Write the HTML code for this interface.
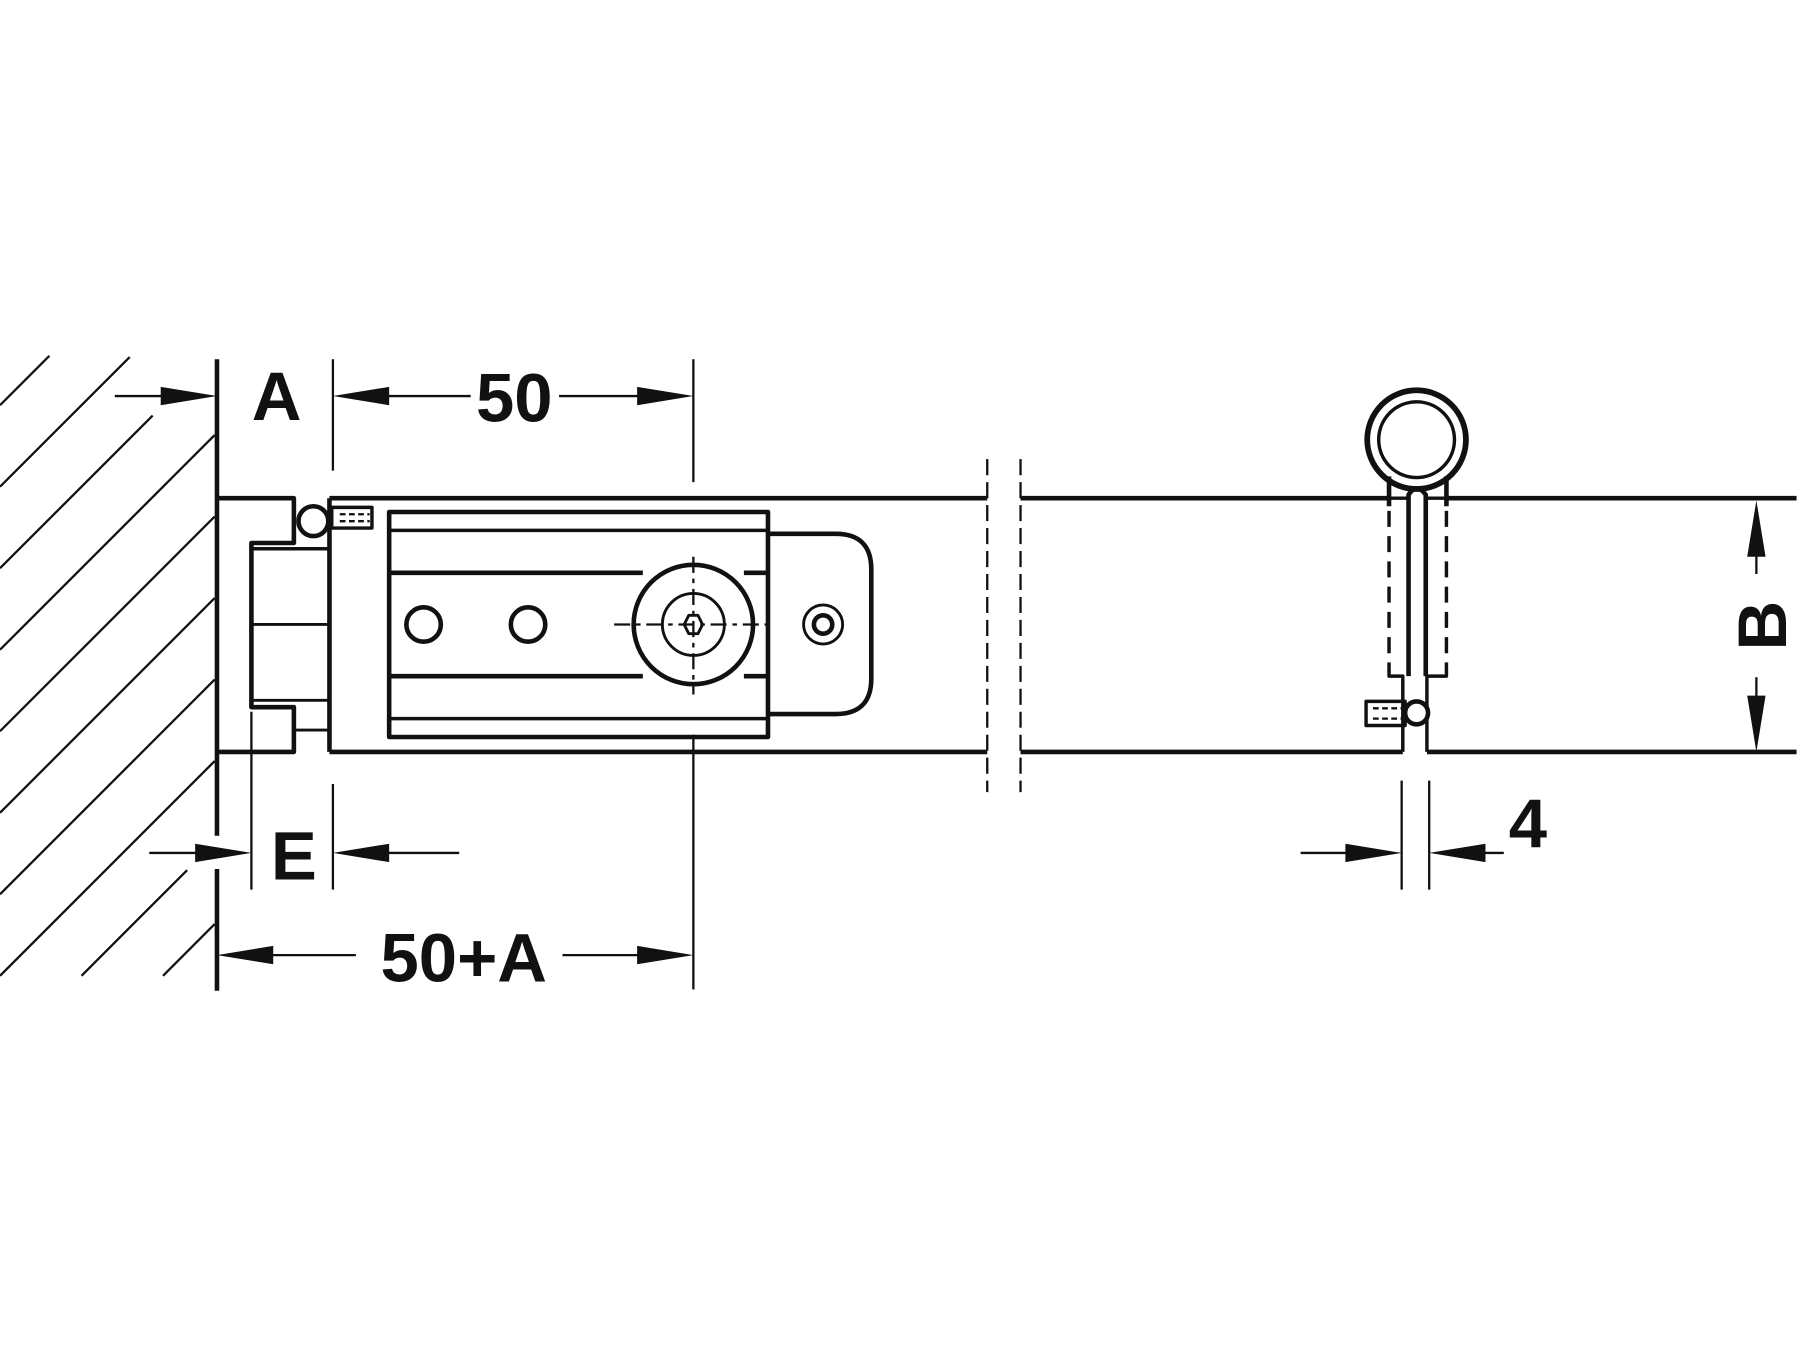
<!DOCTYPE html>
<html><head><meta charset="utf-8"><style>html,body{margin:0;padding:0;background:#fff}svg{display:block}</style></head>
<body>
<svg width="1800" height="1350" viewBox="0 0 1568 1176" xmlns="http://www.w3.org/2000/svg">
<rect width="1568" height="1176" fill="#fff"/>
<g stroke="#111" stroke-width="2" fill="none">
<path d="M0 353L43 310M0 424L113 311M0 495L133 362M0 566L187 379M0 637L187 450M0 708L187 521M0 779L187 592M0 850L187 663M71 850L163 758M142 850L187 805"/>
</g>
<g stroke="#111" fill="none" stroke-width="4" stroke-linejoin="round">
<line x1="189" y1="313" x2="189" y2="728"/>
<line x1="189" y1="757" x2="189" y2="863"/>
<!-- left block -->
<path d="M189 434H256V473H219V616H256V655H189"/>
<path d="M287 434V655" />
<path d="M219 478H287M256 616V655" stroke-width="3"/>
<path d="M219 544H287M256 636H287M219 610H287" stroke-width="2.5"/>
<!-- rail -->
<path d="M287 434H860M287 655H860"/>
<path d="M889 434H1210M1260 434H1565M889 655H1222M1243 655H1565"/>
<!-- ball & screw -->
<circle cx="273" cy="454" r="13"/>
<rect x="289" y="442" width="35" height="18" stroke-width="3"/>
<path d="M296 448H322M296 454H322" stroke-dasharray="5 3" stroke-width="2"/>
<!-- carriage -->
<rect x="339" y="446" width="330" height="196"/>
<path d="M339 462H669M339 626H669" stroke-width="3"/>
<path d="M339 499H560M648 499H669M339 589H560M648 589H669" stroke-width="4"/>
<circle cx="369" cy="544" r="15"/>
<circle cx="460" cy="544" r="15"/>
<circle cx="604" cy="544" r="52" fill="#fff"/>
<circle cx="604" cy="544" r="27" stroke-width="2.5"/>
<polygon points="596,544 600,536 608,536 612,544 608,552 600,552" stroke-width="2.5"/>
<path d="M669 465H728Q759 465 759 496V591Q759 622 728 622H669"/>
<circle cx="717" cy="544" r="17" stroke-width="2.5"/>
<circle cx="717" cy="544" r="8"/>
<!-- centerlines -->
<path d="M535 544H675" stroke-width="2" stroke-dasharray="14 5 4 5"/>
<path d="M604 313V420" stroke-width="2"/>
<path d="M604 485V605" stroke-width="2" stroke-dasharray="14 5 4 5"/>
<path d="M604 640V862" stroke-width="2"/>
<!-- break lines -->
<path d="M860 400V690M889 400V690" stroke-width="2" stroke-dasharray="14 6"/>
<!-- right ring -->
<circle cx="1234" cy="383" r="43" stroke-width="5"/>
<circle cx="1234" cy="383" r="33" stroke-width="3"/>
<path d="M1210 415V441M1260 415V441" stroke-width="4"/>
<path d="M1210 445V585M1260 445V585" stroke-width="3" stroke-dasharray="14 8"/>
<path d="M1210 584V589H1222V655M1260 584V589H1243V655" stroke-width="3"/>
<path d="M1227 589V431Q1234 420 1242 431V589" stroke-width="4"/>
<path d="M1210 434H1227M1242 434H1260" stroke-width="3"/>
<circle cx="1234" cy="621" r="10" fill="#fff"/>
<rect x="1190" y="611" width="34" height="21" stroke-width="3"/>
<path d="M1196 617H1222M1196 626H1222" stroke-width="2" stroke-dasharray="5 3"/>
<!-- dimension lines -->
<g stroke-width="2">
<path d="M100 345H150M290 313V410M330 345H410M487 345H565"/>
<path d="M219 620V775M290 683V775M130 743H180M330 743H400"/>
<path d="M230 832H310M490 832H565"/>
<path d="M1221 680V775M1245 680V775M1133 743H1185M1282 743H1310"/>
<path d="M1530 475V500M1530 590V615"/>
</g>
</g>
<g fill="#111">
<polygon points="189,345 140,337 140,353"/>
<polygon points="290,345 339,337 339,353"/>
<polygon points="604,345 555,337 555,353"/>
<polygon points="219,743 170,735 170,751"/>
<polygon points="290,743 339,735 339,751"/>
<polygon points="189,832 238,824 238,840"/>
<polygon points="604,832 555,824 555,840"/>
<polygon points="1221,743 1172,735 1172,751"/>
<polygon points="1245,743 1294,735 1294,751"/>
<polygon points="1530,436 1522,485 1538,485"/>
<polygon points="1530,655 1522,606 1538,606"/>
</g>
<g font-family="Liberation Sans, sans-serif" font-weight="bold" font-size="60" fill="#111" text-anchor="middle">
<text x="241" y="366">A</text>
<text x="448" y="367">50</text>
<text x="256" y="766">E</text>
<text x="404" y="855">50+A</text>
<text x="1331" y="738">4</text>
<text transform="translate(1556,545) rotate(-90)" x="0" y="0">B</text>
</g>
</svg>
</body></html>
